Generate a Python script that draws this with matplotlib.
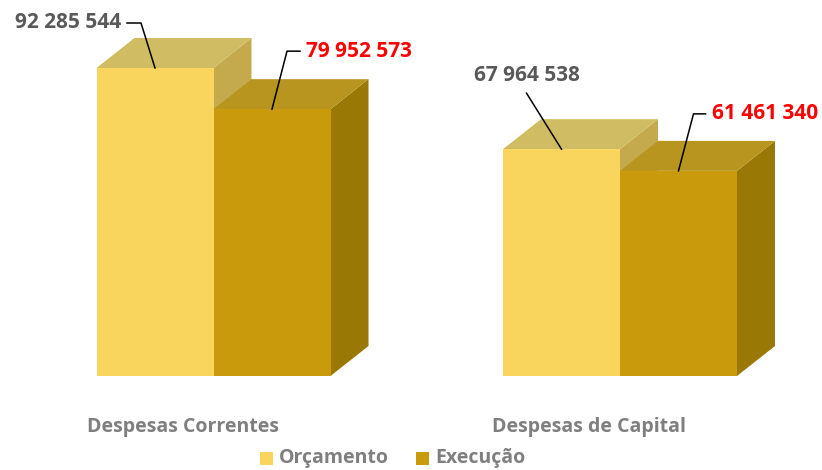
"""3D-style clustered columns: Orçamento vs Execução by expense type."""

import matplotlib

matplotlib.use("Agg")
import matplotlib.pyplot as plt
from matplotlib.patches import Polygon, Rectangle

categories = ["Despesas Correntes", "Despesas de Capital"]
series_names = ["Orçamento", "Execução"]
orcamento = [92285544, 67964538]
execucao = [79952573, 61461340]
value_labels = [["92 285 544", "67 964 538"], ["79 952 573", "61 461 340"]]

W, H = 822, 470
BASE_PX = 376          # pixel row of the floor line
TOP_PX = 68            # pixel row of the tallest bar
BAR_W = 117
DEPTH_X, DEPTH_Y = 38, 30
GROUP_CENTERS = [213.5, 620.0]

# colours: front, side, top for each series
FACE = {
    0: ("#FAD55E", "#C4AA4C", "#D0BC62"),
    1: ("#C89A0C", "#9A7806", "#B8951E"),
}
LABEL_COLORS = ["#595959", "#FF0000"]
TEXT_GRAY = "#7F7F7F"
FONT = ["Open Sans", "DejaVu Sans"]

scale = (BASE_PX - TOP_PX) / max(orcamento + execucao)   # px per unit

fig = plt.figure(figsize=(W / 100, H / 100), dpi=100)
ax = fig.add_axes([0, 0, 1, 1])
ax.set_xlim(0, W)
ax.set_ylim(-(H - BASE_PX) / scale, BASE_PX / scale)
ax.axis("off")

dy = DEPTH_Y / scale


def draw_bar(x0, value, s):
    front, side, top = FACE[s]
    x1 = x0 + BAR_W
    ax.add_patch(Polygon([(x1, 0), (x1 + DEPTH_X, dy), (x1 + DEPTH_X, value + dy), (x1, value)],
                         closed=True, fc=side, ec="none"))
    ax.add_patch(Polygon([(x0, value), (x1, value), (x1 + DEPTH_X, value + dy), (x0 + DEPTH_X, value + dy)],
                         closed=True, fc=top, ec="none"))
    ax.add_patch(Rectangle((x0, 0), BAR_W, value, fc=front, ec="none"))


# leader offsets (px) from the bar's front-top centre: elbow point, horizontal end
leaders = {
    (0, 0): ((-14, 45), (-28, 45), "right"),
    (1, 0): ((15, 58), (28, 58), "left"),
    (0, 1): ((-35, 56), None, "center"),
    (1, 1): ((15, 57), (27, 57), "left"),
}

series = [orcamento, execucao]
for g, gc in enumerate(GROUP_CENTERS):
    for s in range(2):
        x0 = gc - BAR_W + s * BAR_W
        draw_bar(x0, series[s][g], s)

for g, gc in enumerate(GROUP_CENTERS):
    for s in range(2):
        x0 = gc - BAR_W + s * BAR_W
        v = series[s][g]
        cx = x0 + BAR_W / 2
        (ex, ey), hend, ha = leaders[(s, g)]
        pts_x = [cx, cx + ex]
        pts_y = [v, v + ey / scale]
        if hend is not None:
            pts_x.append(cx + hend[0])
            pts_y.append(v + hend[1] / scale)
        ax.plot(pts_x, pts_y, color="black", lw=1.1)
        if hend is not None:
            tx = cx + hend[0] + (6 if ha == "left" else -6)
            ty = v + hend[1] / scale
        else:
            tx = cx + ex
            ty = v + (ey + 18) / scale
        ax.text(tx, ty, value_labels[s][g], ha=ha, va="center", fontsize=15,
                fontweight="bold", color=LABEL_COLORS[s], family=FONT)

    ax.text(gc - 31, -(427 - BASE_PX) / scale, categories[g], ha="center", va="center",
            fontsize=14, fontweight="bold", color=TEXT_GRAY, family=FONT)

# legend
leg_items = [(260, series_names[0], FACE[0][0]), (416, series_names[1], FACE[1][0])]
for lx, name, col in leg_items:
    ax.add_patch(Rectangle((lx, -(465 - BASE_PX) / scale), 13, 13 / scale, fc=col, ec="none"))
    ax.text(lx + 19, -(458 - BASE_PX) / scale, name, ha="left", va="center",
            fontsize=14, fontweight="bold", color=TEXT_GRAY, family=FONT)

fig.savefig("out.png", dpi=100)
